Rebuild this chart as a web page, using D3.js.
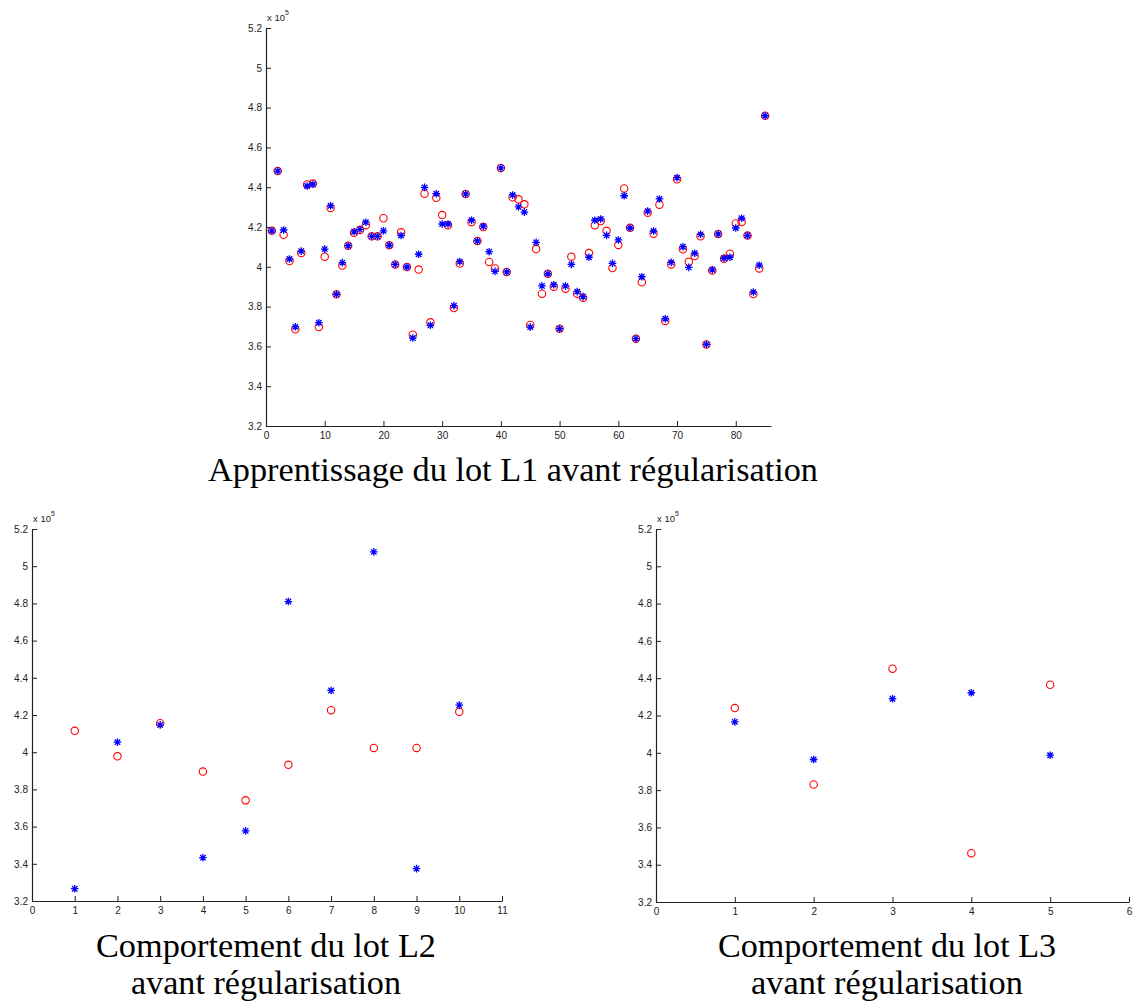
<!DOCTYPE html>
<html>
<head>
<meta charset="utf-8">
<script src="https://cdn.jsdelivr.net/npm/d3@7"></script>
<style>
  body { margin: 0; background: #fff; }
  svg { display: block; }
</style>
</head>
<body>
<svg id="chart" width="1135" height="1005"></svg>
<script>
// ---------- DATA (values in units of 10^5) ----------
const l1Index = d3.range(1, 86);
const l1Stars = [4.181,4.481,4.185,4.039,3.699,4.079,4.406,4.415,3.719,4.089,
                 4.307,3.862,4.021,4.106,4.176,4.188,4.224,4.153,4.153,4.181,
                 4.108,4.012,4.157,3.999,3.642,4.063,4.399,3.706,4.367,4.215,
                 4.215,3.805,4.026,4.366,4.234,4.130,4.204,4.076,3.977,4.497,
                 3.974,4.361,4.301,4.275,3.697,4.123,3.904,3.965,3.910,3.689,
                 3.904,4.012,3.875,3.850,4.048,4.234,4.240,4.158,4.017,4.135,
                 4.357,4.195,3.639,3.950,4.280,4.180,4.341,3.739,4.022,4.448,
                 4.101,3.997,4.068,4.163,3.610,3.985,4.165,4.043,4.048,4.195,
                 4.244,4.157,3.873,4.008,4.759];
const l1Circles = [4.181,4.481,4.161,4.029,3.686,4.069,4.414,4.418,3.697,4.051,
                   4.295,3.862,4.006,4.106,4.171,4.185,4.209,4.153,4.153,4.244,
                   4.108,4.012,4.173,3.999,3.659,3.986,4.367,3.721,4.347,4.260,
                   4.209,3.793,4.016,4.366,4.224,4.130,4.200,4.024,3.992,4.497,
                   3.974,4.349,4.339,4.314,3.708,4.089,3.865,3.965,3.900,3.689,
                   3.890,4.051,3.865,3.845,4.069,4.209,4.230,4.181,3.994,4.110,
                   4.394,4.196,3.639,3.922,4.272,4.166,4.312,3.728,4.012,4.440,
                   4.088,4.026,4.054,4.153,3.610,3.982,4.165,4.040,4.066,4.218,
                   4.225,4.157,3.863,3.992,4.759];

const l2Index = [1,2,3,4,5,6,7,8,9,10];
const l2Stars = [3.266,4.054,4.147,3.433,3.577,4.810,4.332,5.077,3.374,4.253];
const l2Circles = [4.115,3.978,4.156,3.896,3.741,3.932,4.226,4.023,4.023,4.217];

const l3Index = [1,2,3,4,5];
const l3Stars = [4.166,3.964,4.290,4.322,3.987];
const l3Circles = [4.240,3.830,4.451,3.462,4.365];

const yTicks = [3.2,3.4,3.6,3.8,4,4.2,4.4,4.6,4.8,5,5.2];
const yTickLabels = ["3.2","3.4","3.6","3.8","4","4.2","4.4","4.6","4.8","5","5.2"];
const l1XTicks = [0,10,20,30,40,50,60,70,80];
const l2XTicks = [0,1,2,3,4,5,6,7,8,9,10,11];
const l3XTicks = [0,1,2,3,4,5,6];

const l1Title = ["Apprentissage du lot L1 avant régularisation"];
const l2Title = ["Comportement du lot L2", "avant régularisation"];
const l3Title = ["Comportement du lot L3", "avant régularisation"];

// ---------- DRAWING ----------
const svg = d3.select("#chart");
const starPath = (s) => `M${-s},0L${s},0M0,${-s}L0,${s}M${-s*0.72},${-s*0.72}L${s*0.72},${s*0.72}M${-s*0.72},${s*0.72}L${s*0.72},${-s*0.72}`;

function panel(cfg) {
  const x = d3.scaleLinear().domain(cfg.xDomain).range([cfg.left, cfg.right]);
  const y = d3.scaleLinear().domain([3.2, 5.2]).range([cfg.bottom, cfg.top]);
  const g = svg.append("g");

  // axes
  const xAxis = d3.axisBottom(x).tickValues(cfg.xTicks).tickFormat(d3.format("d")).tickSizeInner(-5).tickSizeOuter(0).tickPadding(4);
  const yAxis = d3.axisLeft(y).tickValues(yTicks).tickFormat((d,i) => yTickLabels[i]).tickSizeInner(-5).tickSizeOuter(0).tickPadding(4);
  const gx = g.append("g").attr("transform", `translate(0,${cfg.bottom})`).call(xAxis);
  const gy = g.append("g").attr("transform", `translate(${cfg.left},0)`).call(yAxis);
  [gx, gy].forEach(a => {
    a.select(".domain").attr("stroke", "#222").attr("stroke-width", 1.2);
    a.selectAll(".tick line").attr("stroke", "#222");
    a.selectAll(".tick text").attr("fill", "#222").style("font-family", "'Liberation Sans', Arial, sans-serif").style("font-size", "10px");
  });
  gx.selectAll(".tick text").attr("dy", "0.9em");

  // exponent label
  const ex = g.append("text").attr("x", cfg.left + 1).attr("y", cfg.top - 7)
    .style("font-family", "'Liberation Sans', Arial, sans-serif").style("font-size", "9.5px").attr("fill", "#222");
  ex.append("tspan").text("x 10");
  ex.append("tspan").attr("dy", -6).style("font-size", "7px").text("5");

  // points: circles first, stars on top
  g.append("g").selectAll("circle").data(cfg.idx).join("circle")
    .attr("cx", (d) => x(d)).attr("cy", (d,i) => y(cfg.circles[i]))
    .attr("r", 3.7).attr("fill", "none").attr("stroke", "#ff0000").attr("stroke-width", 1.1);
  g.append("g").selectAll("path").data(cfg.idx).join("path")
    .attr("transform", (d,i) => `translate(${x(d)},${y(cfg.stars[i])})`)
    .attr("d", starPath(3.8)).attr("stroke", "#0000ff").attr("stroke-width", 1.3).attr("fill", "none");

  // title
  const t = g.append("text").attr("text-anchor", "middle")
    .style("font-family", "'Liberation Serif', 'DejaVu Serif', serif").style("font-size", cfg.titleSize + "px").attr("fill", "#000");
  cfg.title.forEach((line, i) => {
    t.append("tspan").attr("x", cfg.titleX).attr("y", cfg.titleY + i * cfg.lineGap)
      .attr("textLength", cfg.titleWidths[i]).attr("lengthAdjust", "spacingAndGlyphs").text(line);
  });
}

panel({xDomain:[0,86], left:266, right:771, top:28, bottom:426, xTicks:l1XTicks,
       idx:l1Index, stars:l1Stars, circles:l1Circles, title:l1Title,
       titleX:513, titleY:481, titleSize:33, lineGap:0, titleWidths:[610]});
panel({xDomain:[0,11], left:32, right:502, top:529, bottom:901, xTicks:l2XTicks,
       idx:l2Index, stars:l2Stars, circles:l2Circles, title:l2Title,
       titleX:266, titleY:957, titleSize:33, lineGap:37, titleWidths:[340, 270]});
panel({xDomain:[0,6], left:656, right:1129, top:529, bottom:902, xTicks:l3XTicks,
       idx:l3Index, stars:l3Stars, circles:l3Circles, title:l3Title,
       titleX:887, titleY:957, titleSize:33, lineGap:37, titleWidths:[338, 272]});
</script>
</body>
</html>
